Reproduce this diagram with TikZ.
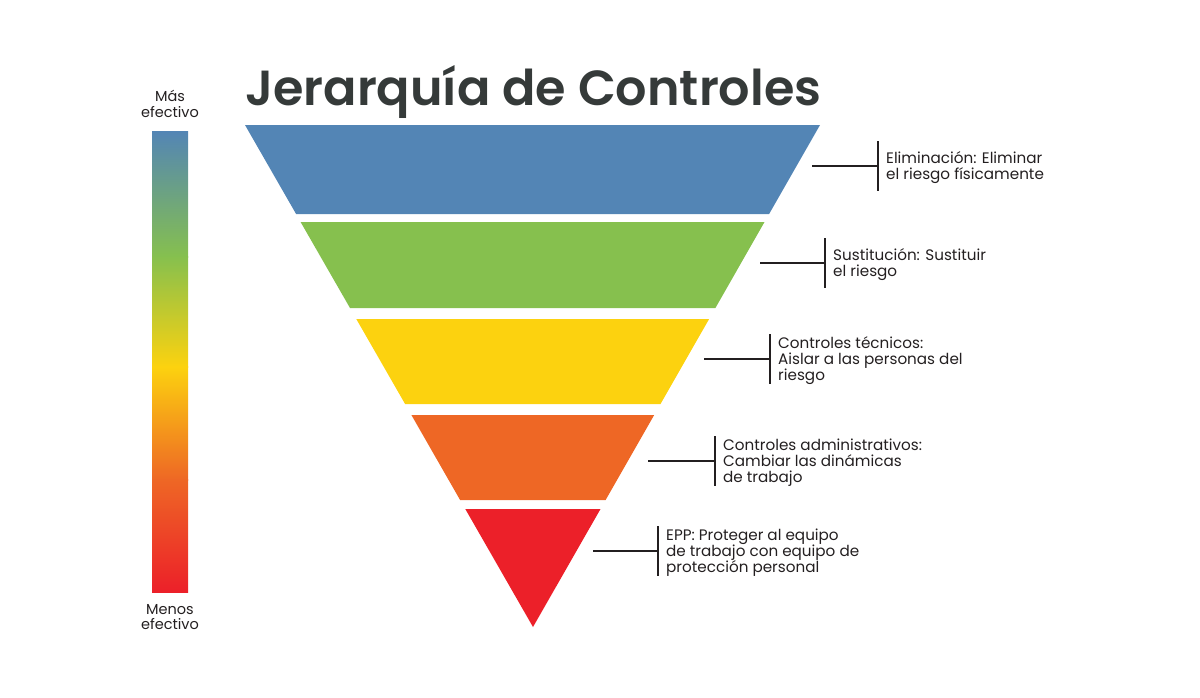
\documentclass[tikz,border=0pt]{standalone}
\usepackage{fontspec}
\setmainfont{Poppins}
\newfontfamily\titlefont{Poppins SemiBold}
\usetikzlibrary{positioning}

\definecolor{elimblue}{HTML}{5385B5}
\definecolor{sustgreen}{HTML}{86C04E}
\definecolor{tecyellow}{HTML}{FCD20F}
\definecolor{admorange}{HTML}{EE6725}
\definecolor{epphred}{HTML}{EC2029}
\definecolor{titlegray}{HTML}{353A39}
\definecolor{textblack}{HTML}{231F20}

\tikzset{
  lbl/.style={anchor=west, inner sep=0pt, align=left, text=textblack,
    font=\fontsize{15.2}{16}\selectfont},
  conn/.style={draw=textblack, line width=1.2pt},
  barlbl/.style={inner sep=0pt, align=center, text=textblack,
    font=\fontsize{14.5}{15.5}\selectfont}
}

\begin{document}
\begin{tikzpicture}[x=1pt,y=-1pt]
  \useasboundingbox (0,0) rectangle (1200,697);

  % ===== titulo =====
  \node[anchor=base west, inner sep=0pt, text=titlegray,
    font=\fontsize{49.3}{50}\titlefont] (titulo) at (245,105) {Jerarquía de Controles};

  % ===== barra de efectividad =====
  \shade[top color=elimblue, bottom color=sustgreen] (152,131) rectangle (188,257);
  \shade[top color=sustgreen, bottom color=tecyellow] (152,256.5) rectangle (188,367);
  \shade[top color=tecyellow, bottom color=admorange] (152,366.5) rectangle (188,480);
  \shade[top color=admorange, bottom color=epphred] (152,479.5) rectangle (188,592);
  \node[barlbl] (mas) at (170,104) {Más\\efectivo};
  \node[barlbl] (menos) at (170,617) {Menos\\efectivo};

  % ===== piramide invertida =====
  \fill[elimblue]  (245,125) -- (820,125) -- (769.1,214) -- (296.1,214) -- cycle;
  \fill[sustgreen] (300.6,222) -- (764.5,222) -- (715.4,308) -- (350.0,308) -- cycle;
  \fill[tecyellow] (356.3,319) -- (709.1,319) -- (660.5,404) -- (405.1,404) -- cycle;
  \fill[admorange] (411.4,415) -- (654.2,415) -- (605.6,500) -- (460.1,500) -- cycle;
  \fill[epphred]   (465.3,509) -- (600.5,509) -- (533,627) -- cycle;

  % ===== etiquetas =====
  \coordinate (s1) at (812,166); \coordinate (j1) at (878,166);
  \coordinate (s2) at (760,263); \coordinate (j2) at (825,263);
  \coordinate (s3) at (704,359); \coordinate (j3) at (770,359);
  \coordinate (s4) at (648,461); \coordinate (j4) at (715,461);
  \coordinate (s5) at (593,551); \coordinate (j5) at (658,551);

  \node[lbl, right=8pt of j1, yshift=-2pt] (elim) {Eliminación: Eliminar\\el riesgo físicamente};
  \node[lbl, right=8pt of j2, yshift=-2pt] (sust) {Sustitución: Sustituir\\el riesgo};
  \node[lbl, right=8pt of j3, yshift=-2pt] (tec) {Controles técnicos:\\Aislar a las personas del\\riesgo};
  \node[lbl, right=8pt of j4, yshift=-2pt] (adm) {Controles administrativos:\\Cambiar las dinámicas\\de trabajo};
  \node[lbl, right=8pt of j5, yshift=-2pt] (epp) {EPP: Proteger al equipo\\de trabajo con equipo de\\protección personal};

  \foreach \i in {1,...,5}{
    \draw[conn] (s\i) -- (j\i);
    \draw[conn] ([yshift=25pt]j\i) -- ([yshift=-25pt]j\i);
  }

\end{tikzpicture}
\end{document}
